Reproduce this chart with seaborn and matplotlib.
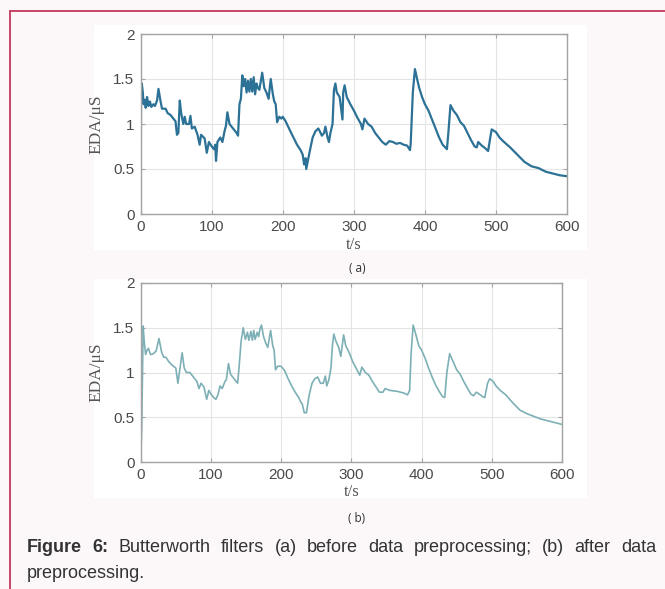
import numpy as np
import pandas as pd
import matplotlib
matplotlib.use("Agg")
import matplotlib.pyplot as plt
from matplotlib.patches import Rectangle
from matplotlib.lines import Line2D
import seaborn as sns

# --- data (t in s, EDA in uS) ---
t_raw = [0, 0.5, 1.5, 3, 4, 6, 7, 9, 11, 13, 15, 18, 20, 23, 25, 28, 30, 35, 38, 42,
         46, 49, 51, 53, 55, 57, 60, 62, 64, 68, 70, 72, 76, 80, 83, 85, 90, 93, 96, 100,
         103, 105, 106, 108, 112, 115, 118, 120, 122, 125, 130, 135, 137, 139, 141, 143, 145, 147, 149, 151,
         153, 155, 157, 159, 161, 163, 165, 167, 171, 174, 177, 180, 183, 186, 188, 190, 192, 195, 198, 200,
         204, 210, 215, 220, 225, 228, 230, 232, 233, 235, 238, 242, 246, 250, 252, 255, 258, 260, 263, 265,
         267, 270, 272, 274, 276, 280, 284, 285, 287, 290, 295, 300, 305, 310, 312, 315, 320, 325, 330, 335,
         340, 345, 350, 355, 360, 365, 370, 375, 379, 380, 383, 386, 389, 392, 396, 400, 405, 410, 415, 420,
         425, 431, 433, 436, 440, 445, 450, 455, 460, 465, 470, 473, 475, 480, 485, 489, 492, 494, 500, 505,
         510, 520, 530, 540, 550, 560, 570, 580, 590, 600]
eda_raw = [0.00, 1.40, 1.45, 1.35, 1.22, 1.27, 1.18, 1.30, 1.20, 1.25, 1.19, 1.22, 1.20, 1.26, 1.39, 1.25, 1.17, 1.17, 1.12, 1.10,
           1.06, 1.03, 0.88, 0.90, 1.26, 1.12, 1.00, 1.08, 1.00, 1.00, 1.09, 0.95, 0.97, 0.88, 0.77, 0.88, 0.84, 0.68, 0.80, 0.75,
           0.72, 0.77, 0.59, 0.80, 0.85, 0.80, 0.92, 0.98, 1.13, 1.00, 0.95, 0.90, 0.87, 1.22, 1.28, 1.54, 1.42, 1.50, 1.35, 1.48,
           1.36, 1.50, 1.36, 1.52, 1.33, 1.45, 1.40, 1.38, 1.57, 1.40, 1.35, 1.28, 1.50, 1.33, 1.25, 1.22, 1.02, 1.08, 1.06, 1.08,
           1.03, 0.93, 0.85, 0.77, 0.71, 0.66, 0.55, 0.62, 0.50, 0.58, 0.70, 0.85, 0.92, 0.95, 0.92, 0.87, 0.90, 0.97, 0.85, 0.80,
           0.90, 1.00, 1.38, 1.45, 1.35, 1.30, 1.05, 1.35, 1.43, 1.30, 1.22, 1.15, 1.07, 1.00, 0.94, 1.06, 1.00, 0.97, 0.90, 0.85,
           0.80, 0.77, 0.81, 0.80, 0.78, 0.79, 0.77, 0.76, 0.71, 0.78, 1.35, 1.61, 1.50, 1.40, 1.30, 1.22, 1.15, 1.05, 0.95, 0.85,
           0.77, 0.72, 0.90, 1.21, 1.15, 1.10, 1.02, 0.98, 0.90, 0.82, 0.75, 0.74, 0.80, 0.76, 0.73, 0.70, 0.85, 0.94, 0.91, 0.85,
           0.81, 0.74, 0.66, 0.58, 0.53, 0.51, 0.47, 0.45, 0.43, 0.42]

t_filt = [0, 1.5, 3.5, 5, 7, 9, 11, 14, 18, 22, 26, 30, 33, 36, 40, 45, 50, 53, 56, 59,
          62, 65, 70, 75, 80, 83, 86, 90, 94, 97, 100, 104, 107, 110, 113, 116, 120, 122, 125, 128,
          133, 138, 140, 143, 146, 149, 152, 154, 157, 159, 161, 163, 166, 168, 170, 172, 175, 178, 181, 185,
          188, 190, 192, 195, 200, 205, 210, 215, 220, 225, 228, 230, 233, 236, 240, 244, 248, 252, 256, 260,
          263, 265, 268, 271, 273, 275, 278, 282, 285, 287, 289, 292, 297, 302, 308, 312, 315, 320, 325, 330,
          335, 340, 345, 348, 355, 365, 375, 380, 383, 385, 388, 392, 396, 400, 405, 410, 415, 420, 425, 430,
          433, 436, 440, 445, 450, 455, 460, 465, 470, 474, 478, 482, 487, 490, 494, 497, 502, 506, 512, 520,
          530, 540, 550, 560, 570, 580, 590, 600]
eda_filt = [0.00, 0.40, 1.52, 1.35, 1.20, 1.25, 1.27, 1.20, 1.21, 1.24, 1.38, 1.22, 1.17, 1.17, 1.12, 1.08, 1.05, 0.88, 1.05, 1.22,
            1.05, 1.00, 1.00, 0.95, 0.90, 0.82, 0.88, 0.84, 0.70, 0.80, 0.76, 0.72, 0.70, 0.75, 0.85, 0.82, 0.90, 0.92, 1.10, 0.98,
            0.93, 0.88, 1.05, 1.35, 1.50, 1.37, 1.45, 1.36, 1.46, 1.36, 1.47, 1.37, 1.45, 1.40, 1.49, 1.53, 1.40, 1.33, 1.28, 1.47,
            1.30, 1.25, 1.03, 1.07, 1.07, 1.02, 0.93, 0.85, 0.78, 0.72, 0.67, 0.65, 0.55, 0.55, 0.75, 0.88, 0.93, 0.95, 0.88, 0.88,
            0.96, 0.85, 0.92, 1.05, 1.30, 1.43, 1.35, 1.28, 1.18, 1.30, 1.42, 1.30, 1.22, 1.12, 1.03, 0.97, 1.06, 1.00, 0.97, 0.90,
            0.84, 0.78, 0.78, 0.82, 0.80, 0.79, 0.77, 0.75, 0.80, 1.20, 1.53, 1.42, 1.30, 1.25, 1.16, 1.05, 0.95, 0.86, 0.79, 0.73,
            0.72, 1.00, 1.21, 1.12, 1.03, 0.98, 0.90, 0.83, 0.76, 0.74, 0.78, 0.76, 0.73, 0.72, 0.88, 0.93, 0.90, 0.85, 0.80, 0.75,
            0.66, 0.58, 0.54, 0.51, 0.48, 0.46, 0.44, 0.42]

x_ticks = [0, 100, 200, 300, 400, 500, 600]
y_ticks = [0, 0.5, 1, 1.5, 2]
y_ticklabels = ["0", "0.5", "1", "1.5", "2"]

raw_df = pd.DataFrame({"t": t_raw, "eda": eda_raw})
filt_df = pd.DataFrame({"t": t_filt, "eda": eda_filt})

sns.set_theme(style="whitegrid")
plt.rcParams["font.family"] = ["Liberation Sans", "DejaVu Sans"]

W, H = 665, 589
fig = plt.figure(figsize=(W / 100, H / 100), dpi=100)
fig.patch.set_facecolor("#fcf8f9")


def px_box(left, top, right, bottom):
    # pixel box -> figure fraction [x, y, w, h]
    return [left / W, 1 - bottom / H, (right - left) / W, (bottom - top) / H]


# white panels behind each graph, and the page border
for top, bottom in [(25, 250), (279, 498)]:
    x, y, w, h = px_box(94, top, 587, bottom)
    fig.add_artist(Rectangle((x, y), w, h, transform=fig.transFigure,
                             facecolor="white", edgecolor="none", zorder=0))
border = "#c4375c"
fig.add_artist(Line2D([9.5 / W, 1], [1 - 11 / H, 1 - 11 / H], transform=fig.transFigure,
                      color=border, lw=1.3))
fig.add_artist(Line2D([9.5 / W, 9.5 / W], [0, 1 - 11 / H], transform=fig.transFigure,
                      color=border, lw=1.3))

ax_a = fig.add_axes(px_box(140.7, 34, 567, 214))
ax_b = fig.add_axes(px_box(140.7, 283, 562, 462))

panels = [(ax_a, raw_df, "#2c7196", 1.6, 214, 237),
          (ax_b, filt_df, "#7db0b6", 1.2, 462, 484)]

serif = ["Liberation Serif", "DejaVu Serif"]
for ax, df, col, lw, spine_y, lab_y in panels:
    ax.set_facecolor("white")
    sns.lineplot(data=df, x="t", y="eda", ax=ax, color=col, linewidth=lw)
    ax.set_xlim(0, 600)
    ax.set_ylim(0, 2)
    ax.set_xticks(x_ticks)
    ax.set_yticks(y_ticks)
    ax.set_yticklabels(y_ticklabels)
    ax.grid(True, color="#e4e4e4", linewidth=0.8)
    for s in ax.spines.values():
        s.set_visible(True)
        s.set_color("#a3a3a3")
        s.set_linewidth(1.0)
    ax.tick_params(direction="in", length=3, width=0.8, color="#a3a3a3",
                   labelsize=11, labelcolor="#4a4a4a", pad=4.5,
                   top=True, right=True, bottom=True, left=True)
    ax.set_xlabel("t/s", family=serif, fontsize=12, color="#555555")
    ax.set_ylabel("EDA/μS", family=serif, fontsize=12.5, color="#555555")
    ax.xaxis.set_label_coords(0.5, -(lab_y - spine_y) / 180)
    ax.yaxis.set_label_coords(-0.085, 0.5)

fig.text(357 / W, 1 - 268 / H, "( a)", ha="center", va="center", fontsize=8.5,
         color="#333333", family=["Open Sans", "DejaVu Sans"])
fig.text(357 / W, 1 - 519 / H, "( b)", ha="center", va="center", fontsize=8.5,
         color="#333333", family=["Open Sans", "DejaVu Sans"])

# caption, first line justified between the margins
cap_words = ["Figure", "6:", "Butterworth", "filters", "(a)", "before", "data",
             "preprocessing;", "(b)", "after", "data"]
cap_bold = [True, True] + [False] * 9
x_left, x_right = 27, 656
fs = 13
renderer = fig.canvas.get_renderer()
texts = []
for w, b in zip(cap_words, cap_bold):
    t = fig.text(0, 1 - 548 / H, w, fontsize=fs, color="#333333",
                 fontweight="bold" if b else "normal", va="center", ha="left")
    texts.append(t)
widths = [t.get_window_extent(renderer).width for t in texts]
gap = (x_right - x_left - sum(widths)) / (len(texts) - 1)
xpos = x_left
for t, wd in zip(texts, widths):
    t.set_x(xpos / W)
    xpos += wd + gap
fig.text(x_left / W, 1 - 573 / H, "preprocessing.", fontsize=fs, color="#333333",
         va="center", ha="left")

fig.savefig("out.png", dpi=100, facecolor=fig.get_facecolor())
